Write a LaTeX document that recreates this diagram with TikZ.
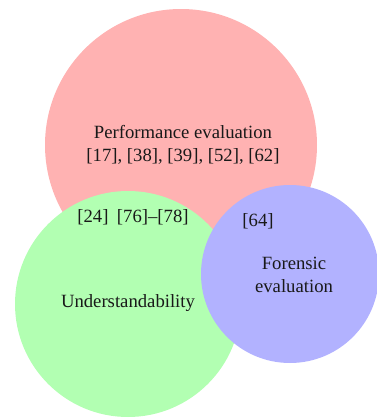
\documentclass[tikz,border=0pt]{standalone}
\usepackage{fontspec}
\setmainfont{Liberation Serif}
\begin{document}
\begin{tikzpicture}[x=0.535pt,y=-0.535pt,
  lbl/.style={font=\fontsize{10}{12}\selectfont, align=center, text=black!90}]
\useasboundingbox (0,0) rectangle (377,419);
\begin{scope}
\clip (0,0) rectangle (377,419);
\fill[red!30] (181,145) circle (136);
\fill[green!30] (128,304) circle (113);
\fill[blue!30] (290,274) circle (89);
\end{scope}
\node[lbl] (perf) at (183,145) {Performance evaluation\\{}[17], [38], [39], [52], [62]};
\node[lbl] (pu) at (133,217) {[24]\hspace{2pt} [76]--[78]};
\node[lbl] (pf) at (258,221) {[64]};
\node[lbl] (und) at (128,303) {Understandability};
\node[lbl] (for) at (294,275) {Forensic\\evaluation};
\end{tikzpicture}
\end{document}
